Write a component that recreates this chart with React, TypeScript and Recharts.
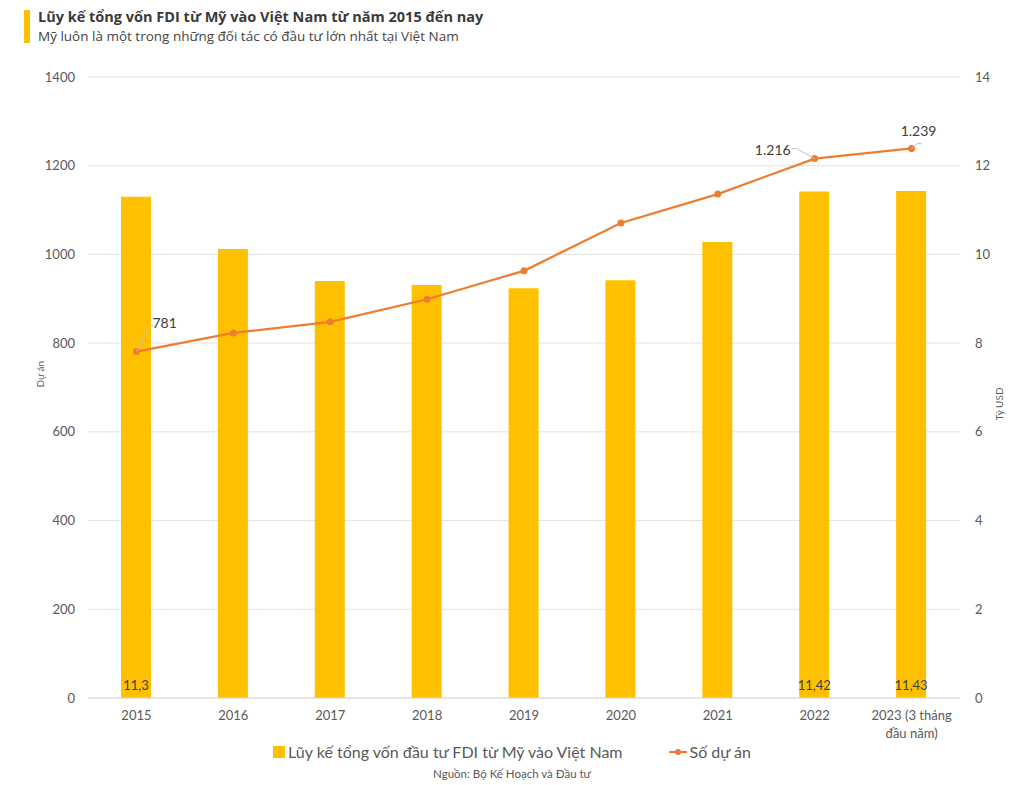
import React from 'react';
import { ComposedChart, Bar, Line, XAxis, YAxis, CartesianGrid, LabelList } from 'recharts';

// Data
const years = ['2015', '2016', '2017', '2018', '2019', '2020', '2021', '2022', '2023 (3 tháng đầu năm)'];
const capital = [11.3, 10.12, 9.4, 9.31, 9.24, 9.42, 10.28, 11.42, 11.43]; // tỷ USD
const projects = [781, 823, 848, 899, 963, 1071, 1136, 1216, 1239]; // số dự án
const capitalLabelIdx = [0, 7, 8];
const projectLabelIdx = [0, 7, 8];
const leftTicks = [0, 200, 400, 600, 800, 1000, 1200, 1400];
const rightTicks = [0, 2, 4, 6, 8, 10, 12, 14];

const data = years.map((year, i) => ({ year, capital: capital[i], projects: projects[i] }));

const BAR = '#FFC000';
const LINE = '#ED7D31';
const TXT = '#595959';
const FONT = 'Lato, "Open Sans", sans-serif';

const YearTick = (props: any) => {
  const { x, y, payload } = props;
  const v: string = payload.value;
  const lines = v.startsWith('2023') ? ['2023 (3 tháng', 'đầu năm)'] : [v];
  return (
    <text x={x} y={y} textAnchor="middle" fill={TXT} fontSize={13} fontFamily={FONT}>
      {lines.map((l, i) => (
        <tspan key={i} x={x} dy={i === 0 ? 14 : 18}>{l}</tspan>
      ))}
    </text>
  );
};

const CapitalLabel = (props: any) => {
  const { x, width, index, value, viewBox } = props;
  if (!capitalLabelIdx.includes(index)) return null;
  const bottom = viewBox ? viewBox.y + viewBox.height : 698;
  return (
    <text x={x + width / 2} y={bottom - 8} textAnchor="middle" fill="#404040" fontSize={13} fontFamily={FONT}>
      {String(value).replace('.', ',')}
    </text>
  );
};

// offsets for the data labels with leader lines
const labelPos: Record<number, { dx: number; dy: number; lx: number; ly: number; anchor: string }> = {
  0: { dx: 16, dy: -28, lx: 13, ly: -26, anchor: 'start' },
  7: { dx: -24, dy: -8, lx: -18, ly: -10, anchor: 'end' },
  8: { dx: 7, dy: -16, lx: 6, ly: -5, anchor: 'middle' },
};

const ProjectLabel = (props: any) => {
  const { x, y, index, value } = props;
  if (!projectLabelIdx.includes(index)) return null;
  const p = labelPos[index];
  const txt = value >= 1000 ? `${Math.floor(value / 1000)}.${String(value % 1000).padStart(3, '0')}` : String(value);
  return (
    <g>
      <polyline
        points={`${x},${y} ${x + p.lx},${y + p.ly} ${x + p.lx + (p.anchor === 'end' ? -5 : 4)},${y + p.ly}`}
        fill="none"
        stroke="#bfbfbf"
        strokeWidth={1}
      />
      <text x={x + p.dx} y={y + p.dy} dy={4} textAnchor={p.anchor as any} fill="#404040" fontSize={14} fontFamily={FONT}>
        {txt}
      </text>
    </g>
  );
};

export default function App() {
  if (typeof document !== 'undefined') document.body.style.margin = '0';
  return (
    <div style={{ position: 'relative', width: 1024, height: 785, background: '#fff', overflow: 'hidden' }}>
      <div style={{ position: 'absolute', left: 24, top: 10, width: 6, height: 33, background: BAR }} />
      <div style={{ position: 'absolute', left: 38, top: 7, fontFamily: '"Open Sans", sans-serif', fontWeight: 700, fontSize: 14.5, color: '#3a3a3a', whiteSpace: 'nowrap' }}>
        Lũy kế tổng vốn FDI từ Mỹ vào Việt Nam từ năm 2015 đến nay
      </div>
      <div style={{ position: 'absolute', left: 38, top: 27, fontFamily: '"Open Sans", sans-serif', fontSize: 13.5, color: '#444', whiteSpace: 'nowrap' }}>
        Mỹ luôn là một trong những đối tác có đầu tư lớn nhất tại Việt Nam
      </div>
      <ComposedChart
        width={1024}
        height={785}
        data={data}
        margin={{ top: 77, right: 4, bottom: 47, left: 28 }}
        barCategoryGap={0}
      >
        <CartesianGrid yAxisId="left" vertical={false} stroke="#e3e3e3" />
        <XAxis
          dataKey="year"
          tick={<YearTick />}
          tickLine={false}
          axisLine={{ stroke: '#d9d9d9' }}
          interval={0}
          height={40}
        />
        <YAxis
          yAxisId="left"
          width={60}
          domain={[0, 1400]}
          ticks={leftTicks}
          tickLine={false}
          axisLine={false}
          tickMargin={7}
          tick={{ fill: TXT, fontSize: 13, fontFamily: FONT }}
          label={{ value: 'Dự án', angle: -90, position: 'insideLeft', offset: 12, fill: TXT, fontSize: 10, fontFamily: FONT }}
        />
        <YAxis
          yAxisId="right"
          orientation="right"
          width={60}
          domain={[0, 14]}
          ticks={rightTicks}
          tickLine={false}
          axisLine={false}
          tickMargin={9}
          tick={{ fill: TXT, fontSize: 13, fontFamily: FONT, textAnchor: 'start' }}
          label={{ value: 'Tỷ USD', angle: -90, position: 'insideRight', offset: 21, fill: TXT, fontSize: 10, fontFamily: FONT }}
        />
        <Bar yAxisId="right" dataKey="capital" name="Lũy kế tổng vốn đầu tư FDI từ Mỹ vào Việt Nam" fill={BAR} barSize={30} isAnimationActive={false}>
          <LabelList dataKey="capital" content={<CapitalLabel />} />
        </Bar>
        <Line
          yAxisId="left"
          type="linear"
          dataKey="projects"
          name="Số dự án"
          stroke={LINE}
          strokeWidth={2.25}
          dot={{ r: 3.5, fill: LINE, stroke: LINE, strokeWidth: 0 }}
          activeDot={false}
          isAnimationActive={false}
        >
          <LabelList dataKey="projects" content={<ProjectLabel />} />
        </Line>
      </ComposedChart>
      <div style={{ position: 'absolute', top: 742, left: 0, width: 1024, display: 'flex', justifyContent: 'center', alignItems: 'center', fontFamily: FONT, fontSize: 16, color: TXT }}>
        <span style={{ display: 'inline-block', width: 12, height: 12, background: BAR, marginRight: 3 }} />
        <span style={{ marginRight: 46 }}>Lũy kế tổng vốn đầu tư FDI từ Mỹ vào Việt Nam</span>
        <svg width={18} height={10} style={{ marginRight: 3 }}>
          <line x1={0} y1={5} x2={18} y2={5} stroke={LINE} strokeWidth={2} />
          <circle cx={9} cy={5} r={3} fill={LINE} />
        </svg>
        <span>Số dự án</span>
      </div>
      <div style={{ position: 'absolute', left: 0, width: 1024, top: 767, textAlign: 'center', fontFamily: FONT, fontSize: 11.5, color: TXT }}>
        Nguồn: Bộ Kế Hoạch và Đầu tư
      </div>
    </div>
  );
}
